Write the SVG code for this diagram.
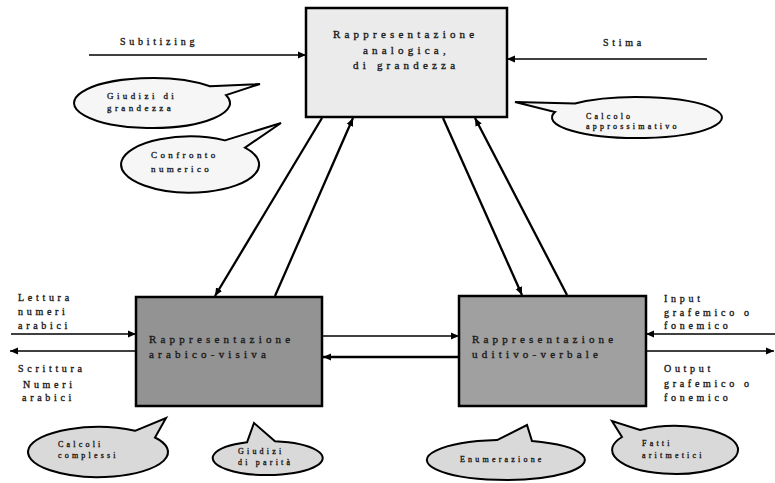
<svg xmlns="http://www.w3.org/2000/svg" width="775" height="483" viewBox="0 0 775 483">
<style>
  .box { stroke: #000; stroke-width: 2.5; }
  .t { font-family: "Liberation Serif", "Times New Roman", serif; fill: #1a1a1a; stroke: #1a1a1a; stroke-width: 0.35; }
  .tb { font-size: 11px; letter-spacing: 4.2px; }
  .tl { font-size: 10px; letter-spacing: 3.7px; }
  .tc { font-size: 9px; letter-spacing: 3.4px; }
  .ts { font-size: 8px; letter-spacing: 3.2px; }
  .bub { stroke: #000; stroke-width: 2; stroke-linejoin: miter; }
  .lite { fill: #f6f6f6; }
  .dark { fill: #d9d9d9; }
  .c { fill: none; stroke: #000; stroke-width: 2.3; }
  .thin { stroke-width: 1.6; }
  .thick { stroke-width: 2.6; }
</style>
<defs>
  <marker id="ah" markerUnits="userSpaceOnUse" markerWidth="10" markerHeight="8" refX="8" refY="4" orient="auto">
    <path d="M0,0.5 L8,4 L0,7.5 z" fill="#000"/>
  </marker>
</defs>
<rect width="775" height="483" fill="#fff"/>

<g id="connectors">
  <line class="c thin" x1="89" y1="55" x2="306" y2="55" marker-end="url(#ah)"/>
  <line class="c thin" x1="707" y1="59" x2="507" y2="59" marker-end="url(#ah)"/>
  <line class="c" x1="322" y1="118" x2="215" y2="296" marker-end="url(#ah)"/>
  <line class="c" x1="275" y1="296" x2="353" y2="118" marker-end="url(#ah)"/>
  <line class="c" x1="443" y1="118" x2="522" y2="295" marker-end="url(#ah)"/>
  <line class="c" x1="567" y1="295" x2="475" y2="118" marker-end="url(#ah)"/>
  <line class="c thin" x1="322" y1="336" x2="459" y2="336" marker-end="url(#ah)"/>
  <line class="c thick" x1="459" y1="357" x2="323" y2="357" marker-end="url(#ah)"/>
  <line class="c thin" x1="11" y1="334" x2="136" y2="334" marker-end="url(#ah)"/>
  <line class="c thin" x1="136" y1="351" x2="10" y2="351" marker-end="url(#ah)"/>
  <line class="c thin" x1="775" y1="334" x2="646" y2="334" marker-end="url(#ah)"/>
  <line class="c thin" x1="646" y1="351" x2="774" y2="351" marker-end="url(#ah)"/>
</g>

<g id="analogica">
  <rect class="box" x="306" y="8" width="201" height="109" fill="#ebebeb"/>
  <text class="t tb" x="333" y="38">Rappresentazione</text>
  <text class="t tb" x="363" y="54">analogica,</text>
  <text class="t tb" x="353" y="69">di grandezza</text>
</g>

<g id="arabico">
  <rect class="box" x="136" y="297" width="186" height="109" fill="#939393"/>
  <text class="t tb" x="149" y="343">Rappresentazione</text>
  <text class="t tb" x="149" y="358">arabico-visiva</text>
</g>

<g id="uditivo">
  <rect class="box" x="459" y="296" width="187" height="110" fill="#a0a0a0"/>
  <text class="t tb" x="472" y="343">Rappresentazione</text>
  <text class="t tb" x="472" y="358">uditivo-verbale</text>
</g>

<g id="labels">
  <text class="t tl" x="120" y="45">Subitizing</text>
  <text class="t tl" x="603" y="46">Stima</text>
  <text class="t tl" x="18" y="301">Lettura</text>
  <text class="t tl" x="18" y="315">numeri</text>
  <text class="t tl" x="18" y="329">arabici</text>
  <text class="t tl" x="18" y="372">Scrittura</text>
  <text class="t tl" x="23" y="388">Numeri</text>
  <text class="t tl" x="22" y="401">arabici</text>
  <text class="t tl" x="664" y="302">Input</text>
  <text class="t tl" x="664" y="316">grafemico o</text>
  <text class="t tl" x="664" y="329">fonemico</text>
  <text class="t tl" x="664" y="372">Output</text>
  <text class="t tl" x="664" y="387">grafemico o</text>
  <text class="t tl" x="664" y="401">fonemico</text>
</g>

<g id="giudizi-grandezza">
  <path class="bub lite" d="M210,86.3 L260,84 L226,95.1 A78 25 0 1 1 210,86.3 Z"/>
  <text class="t tc" x="107" y="99">Giudizi di</text>
  <text class="t tc" x="107" y="111">grandezza</text>
</g>

<g id="confronto">
  <path class="bub lite" d="M225,140.4 L281,123 L245,147.6 A69 28 0 1 1 225,140.4 Z"/>
  <text class="t tc" x="151" y="158">Confronto</text>
  <text class="t tc" x="151" y="172">numerico</text>
</g>

<g id="calcolo-approssimativo">
  <path class="bub lite" d="M575,103.5 L515,102 L555,112.1 A85 20.5 0 1 0 575,103.5 Z"/>
  <text class="t ts" x="586" y="119">Calcolo</text>
  <text class="t ts" x="586" y="129">approssimativo</text>
</g>

<g id="calcoli-complessi">
  <path class="bub dark" d="M135,430.8 L166,418 L155,437.5 A70 25 0 1 1 135,430.8 Z"/>
  <text class="t ts" x="58" y="447">Calcoli</text>
  <text class="t ts" x="58" y="458">complessi</text>
</g>

<g id="giudizi-parita">
  <path class="bub dark" d="M247,442.3 L254,423 L275,441.2 A55 17 0 1 1 247,442.3 Z"/>
  <text class="t ts" x="238" y="454">Giudizi</text>
  <text class="t ts" x="238" y="465">di parità</text>
</g>

<g id="enumerazione">
  <path class="bub dark" d="M497,440.1 L527,425 L532,441.1 A79 20 0 1 1 497,440.1 Z"/>
  <text class="t ts" x="460" y="462">Enumerazione</text>
</g>

<g id="fatti-aritmetici">
  <path class="bub dark" d="M622,437 L612,421 L640,430 A63 24 0 1 1 622,437 Z"/>
  <text class="t ts" x="642" y="446">Fatti</text>
  <text class="t ts" x="642" y="458">aritmetici</text>
</g>
</svg>
